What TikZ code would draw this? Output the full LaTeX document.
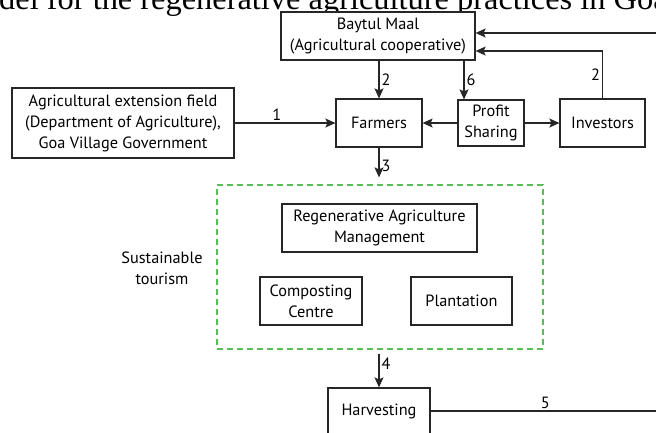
\documentclass[tikz,border=0pt]{standalone}
\usepackage{fontspec}
\setmainfont{PT Sans}
\newfontfamily\titlefont{Liberation Serif}
\usetikzlibrary{arrows.meta}
\usetikzlibrary{positioning}
\definecolor{zonegreen}{RGB}{88,190,88}

\begin{document}
\begin{tikzpicture}[x=1pt, y=-1pt,
    font=\fontsize{16.3}{21}\selectfont,
    box/.style={draw=black!85, line width=1.2pt, rectangle, align=center, inner sep=0pt},
    link/.style={draw=black!85, line width=1.2pt},
    flow/.style={link, -{Stealth[length=10pt, width=9pt, inset=2pt]}},
    num/.style={inner sep=2pt}]
  \useasboundingbox (0,0) rectangle (656,432);
  % caption, cut off at the top
  \node[anchor=base west, inner sep=0pt, font=\titlefont\fontsize{32.4}{36}\selectfont] (title) at (-1,9.5) {\llap{Mo}del for the regenerative agriculture practices in Goa};

  % actors
  \node[box, fill=white, minimum width=194pt, minimum height=48pt] (baytul) at (378,36) {Baytul Maal\\(Agricultural cooperative)};
  \node[box, minimum width=222pt, minimum height=70pt] (agri) at (123,123) {Agricultural extension field\\(Department of Agriculture),\\Goa Village Government};
  \node[box, minimum width=86pt, minimum height=48pt] (farmers) at (379,123) {Farmers};
  \node[box, minimum width=66pt, minimum height=46pt] (profit) at (491,123) {Profit\\Sharing};
  \node[box, minimum width=85pt, minimum height=48pt] (investors) at (602.5,123) {Investors};

  % regenerative practice zone
  \node[draw=zonegreen, line width=1.2pt, dash pattern=on 6pt off 4pt, minimum width=326pt, minimum height=164pt] (zone) at (380,267) {};
  \node[box, minimum width=195pt, minimum height=48pt] (regen) at (379.5,228) {Regenerative Agriculture\\Management};
  \node[box, minimum width=102pt, minimum height=48pt] (compost) at (311,301) {Composting\\Centre};
  \node[box, minimum width=101pt, minimum height=48pt] (plant) at (461.5,301) {Plantation};
  \node[align=center] (tourism) at (162,268) {Sustainable\\tourism};
  \node[box, minimum width=102pt, minimum height=46pt] (harvest) at (379,411) {Harvesting};

  \coordinate (feedin) at (660,33);
  \coordinate (feedout) at (660,411);

  % flows
  \draw[flow] (agri.east) -- node[num, above, pos=0.42] {1} (farmers.west);
  \draw[flow] (farmers.north |- baytul.south) -- node[num, right] {2} (farmers.north);
  \draw[flow] ([xshift=-27pt]profit.north |- baytul.south) -- node[num, right] {6} ([xshift=-27pt]profit.north);
  \draw[flow] (profit.west) -- (farmers.east);
  \draw[flow] (profit.east) -- (investors.west);
  \draw[flow] (investors.north) |- node[num, left, pos=0.25] {2} ([yshift=-15pt]baytul.east);
  \draw[flow] (feedin) -- ([yshift=3pt]baytul.east);
  \draw[flow] (farmers.south) -- node[num, right, pos=0.62] {3} ([yshift=7pt]farmers.south |- zone.north);
  \draw[flow] ([yshift=-4pt]harvest.north |- zone.south) -- node[num, right, pos=0.3] {4} (harvest.north);
  \draw[link] (harvest.east) -- node[num, above] {5} (feedout);
\end{tikzpicture}
\end{document}
